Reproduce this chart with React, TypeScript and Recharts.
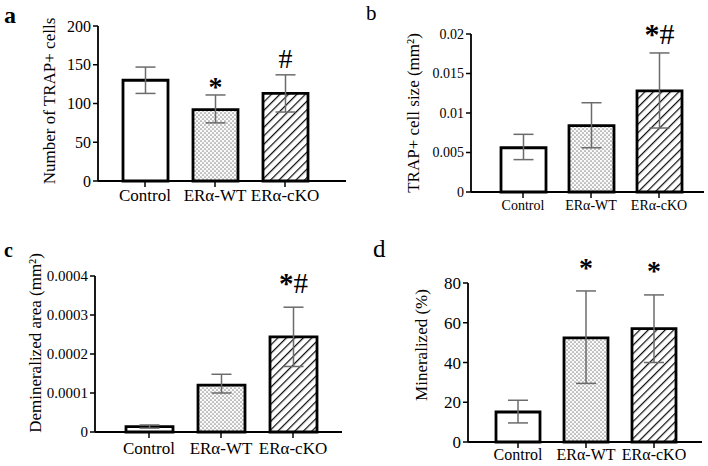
import React from "react";
import { BarChart, Bar, XAxis, YAxis, ErrorBar, Cell, LabelList } from "recharts";

const groups = ["Control", "ERα-WT", "ERα-cKO"];

// a: number of TRAP+ cells
const trapCount = [130, 92, 113];
const trapCountLow = [113, 75, 89];
const trapCountHigh = [147, 111, 137];
const trapCountMarks = ["", "*", "#"];
const trapCountTicks = [0, 50, 100, 150, 200];

// b: TRAP+ cell size
const trapSize = [0.0056, 0.0084, 0.0128];
const trapSizeLow = [0.0041, 0.0056, 0.0081];
const trapSizeHigh = [0.0073, 0.0113, 0.0176];
const trapSizeMarks = ["", "", "*#"];
const trapSizeTicks = [0, 0.005, 0.01, 0.015, 0.02];

// c: demineralized area
const deminArea = [0.000014, 0.00012, 0.000244];
const deminAreaLow = [0.00001, 0.0001, 0.000168];
const deminAreaHigh = [0.000018, 0.000148, 0.00032];
const deminAreaMarks = ["", "", "*#"];
const deminAreaTicks = [0, 0.0001, 0.0002, 0.0003, 0.0004];

// d: mineralized
const mineralized = [15.1, 52.4, 57];
const mineralizedLow = [9.6, 29.5, 40];
const mineralizedHigh = [21, 76, 74];
const mineralizedMarks = ["", "*", "*"];
const mineralizedTicks = [0, 20, 40, 60, 80];

const FONT = "'Liberation Serif', 'Times New Roman', serif";

const YTitle = (props: any) => {
  const { px, py, txt, fs } = props;
  return (
    <text
      x={px}
      y={py}
      transform={`rotate(-90 ${px} ${py})`}
      textAnchor="middle"
      dominantBaseline="central"
      fontFamily={FONT}
      fontSize={fs}
      fill="#000"
    >
      {txt}
    </text>
  );
};

type PanelCfg = {
  id: string;
  left: number;
  top: number;
  values: number[];
  low: number[];
  high: number[];
  marks: string[];
  ticks: number[];
  yLabel: string;
  yWidth: number;
  margin: { top: number; right: number; bottom: number; left: number };
  xHeight: number;
  xTickMargin: number;
  padL: number;
  padR: number;
  barSize: number;
  xFont: number;
  yFont: number;
  labelX: number;
  labelY: number;
  labelFont: number;
  markFont: number;
  markGap: number;
};

const panels: PanelCfg[] = [
  {
    id: "a", left: 0, top: 0,
    values: trapCount, low: trapCountLow, high: trapCountHigh, marks: trapCountMarks,
    ticks: trapCountTicks, yLabel: "Number of TRAP+ cells",
    yWidth: 98, margin: { top: 26, right: 8, bottom: 22, left: 0 }, xHeight: 30, xTickMargin: 2,
    padL: 12, padR: 26, barSize: 45, xFont: 17, yFont: 16,
    labelX: 49, labelY: 101, labelFont: 17, markFont: 28, markGap: 7,
  },
  {
    id: "b", left: 354, top: 0,
    values: trapSize, low: trapSizeLow, high: trapSizeHigh, marks: trapSizeMarks,
    ticks: trapSizeTicks, yLabel: "TRAP+ cell size (mm²)",
    yWidth: 117, margin: { top: 34, right: 4, bottom: 11, left: 0 }, xHeight: 30, xTickMargin: 2,
    padL: 18, padR: 11, barSize: 45, xFont: 14, yFont: 14,
    labelX: 59, labelY: 113, labelFont: 17, markFont: 30, markGap: 9,
  },
  {
    id: "c", left: 0, top: 233,
    values: deminArea, low: deminAreaLow, high: deminAreaHigh, marks: deminAreaMarks,
    ticks: deminAreaTicks, yLabel: "Demineralized area (mm²)",
    yWidth: 95, margin: { top: 43, right: 12, bottom: 10, left: 0 }, xHeight: 24, xTickMargin: 4,
    padL: 18, padR: 13, barSize: 47, xFont: 17, yFont: 15,
    labelX: 35, labelY: 110, labelFont: 17, markFont: 29, markGap: 14,
  },
  {
    id: "d", left: 354, top: 233,
    values: mineralized, low: mineralizedLow, high: mineralizedHigh, marks: mineralizedMarks,
    ticks: mineralizedTicks, yLabel: "Mineralized (%)",
    yWidth: 114, margin: { top: 50, right: 6, bottom: 0, left: 0 }, xHeight: 24, xTickMargin: 1,
    padL: 16, padR: 14, barSize: 44, xFont: 16, yFont: 17,
    labelX: 67, labelY: 112, labelFont: 17, markFont: 28, markGap: 22,
  },
];

const Panel = ({ cfg }: { cfg: PanelCfg }) => {
  const data = groups.map((g, i) => ({
    group: g,
    value: cfg.values[i],
    err: [cfg.values[i] - cfg.low[i], cfg.high[i] - cfg.values[i]],
    mark: cfg.marks[i],
  }));
  const fills = ["#ffffff", `url(#dots-${cfg.id})`, `url(#hatch-${cfg.id})`];
  const top = cfg.ticks[cfg.ticks.length - 1];

  const renderMark = (p: any) => {
    const vb = p.viewBox ?? p;
    const i = p.index;
    const s: string = cfg.marks[i];
    if (!s) return null;
    const x = Number(vb.x);
    const y = Number(vb.y);
    const w = Number(vb.width);
    const h = Math.abs(Number(vb.height));
    const bottom = y + h;
    const errTop = bottom - (cfg.high[i] * h) / cfg.values[i];
    const fs = cfg.markFont;
    const base = errTop - cfg.markGap + (s.includes("#") ? 0 : 0.27 * fs);
    return (
      <text x={x + w / 2} y={base} textAnchor="middle" fontFamily={FONT} fontSize={fs} fill="#000">
        {s.split("").map((ch, k) => (
          <tspan key={k} fontWeight={ch === "*" ? "bold" : "normal"}>
            {ch}
          </tspan>
        ))}
      </text>
    );
  };

  return (
    <div style={{ position: "absolute", left: cfg.left, top: cfg.top }}>
      <BarChart width={354} height={233} data={data} margin={cfg.margin} style={{ fontFamily: FONT }}>
        <defs>
          <pattern id={`dots-${cfg.id}`} width="4" height="4" patternUnits="userSpaceOnUse">
            <rect width="4" height="4" fill="#fafafa" />
            <circle cx="1" cy="1" r="0.85" fill="#909090" />
            <circle cx="3" cy="3" r="0.85" fill="#909090" />
          </pattern>
          <pattern
            id={`hatch-${cfg.id}`}
            width="6"
            height="6"
            patternUnits="userSpaceOnUse"
            patternTransform="rotate(45)"
          >
            <rect width="6" height="6" fill="#ffffff" />
            <line x1="0" y1="0" x2="0" y2="6" stroke="#111" strokeWidth="2.5" />
          </pattern>
        </defs>
        <XAxis
          dataKey="group"
          interval={0}
          height={cfg.xHeight}
          padding={{ left: cfg.padL, right: cfg.padR }}
          axisLine={{ stroke: "#000", strokeWidth: 1.8 }}
          tickLine={{ stroke: "#000", strokeWidth: 1.5 }}
          tickSize={6}
          tickMargin={cfg.xTickMargin}
          tick={{ fill: "#000", fontSize: cfg.xFont, fontFamily: FONT }}
        />
        <YAxis
          type="number"
          domain={[0, top]}
          ticks={cfg.ticks}
          interval={0}
          width={cfg.yWidth}
          axisLine={{ stroke: "#000", strokeWidth: 1.8 }}
          tickLine={{ stroke: "#000", strokeWidth: 1.5 }}
          tickSize={5}
          tickMargin={2}
          tick={{ fill: "#000", fontSize: cfg.yFont, fontFamily: FONT }}
          label={<YTitle px={cfg.labelX} py={cfg.labelY} txt={cfg.yLabel} fs={cfg.labelFont} />}
        />
        <Bar
          dataKey="value"
          barSize={cfg.barSize}
          stroke="#000"
          strokeWidth={2.8}
          isAnimationActive={false}
        >
          {data.map((_, i) => (
            <Cell key={i} fill={fills[i]} />
          ))}
          <ErrorBar dataKey="err" direction="y" width={10} stroke="#6b6b6b" strokeWidth={1.5} />
          <LabelList dataKey="mark" content={renderMark} />
        </Bar>
      </BarChart>
    </div>
  );
};

const App = () => {
  return (
    <div
      style={{
        position: "absolute",
        left: 0,
        top: 0,
        width: 708,
        height: 466,
        background: "#fff",
      }}
    >
      {panels.map((p) => (
        <Panel key={p.id} cfg={p} />
      ))}
      <svg
        width={708}
        height={466}
        style={{ position: "absolute", left: 0, top: 0, pointerEvents: "none" }}
      >
        <text x={4} y={23} fontFamily={FONT} fontSize={24} fontWeight="bold">a</text>
        <text x={366} y={20} fontFamily={FONT} fontSize={21}>b</text>
        <text x={4} y={257} fontFamily={FONT} fontSize={20} fontWeight="bold">c</text>
        <text x={373} y={257} fontFamily={FONT} fontSize={25}>d</text>
      </svg>
    </div>
  );
};

export default App;
